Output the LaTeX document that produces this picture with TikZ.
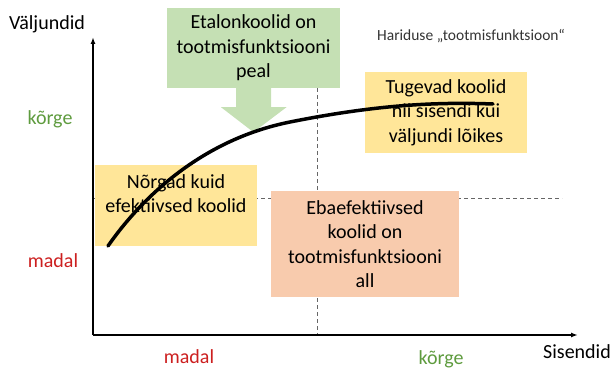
\documentclass[tikz,border=0pt]{standalone}
\usepackage{fontspec}
\setmainfont{Carlito}
\usepackage{tikz}
\usetikzlibrary{arrows.meta,calc,positioning}
\definecolor{boxgreen}{HTML}{C5E0B4}
\definecolor{boxyellow}{HTML}{FFE699}
\definecolor{boxorange}{HTML}{F8CBAD}
\definecolor{lblgreen}{HTML}{5E9B3E}
\definecolor{lblred}{HTML}{CC1F1F}
\tikzset{
  txt/.style={font=\fontsize{20}{24.4}\selectfont, inner sep=0pt},
  smalltxt/.style={font=\fontsize{15.5}{18}\selectfont, inner sep=0pt, text=black!80},
  lowlbl/.style={txt, text=lblred},
  highlbl/.style={txt, text=lblgreen},
  box/.style={txt, align=center},
  axis/.style={line width=1.4pt, -{Latex[length=7pt,width=5pt]}},
  guide/.style={gray!80!black, line width=0.7pt, dash pattern=on 4pt off 3pt},
  frontier/.style={line width=3.5pt, line cap=round}
}

\begin{document}
\begin{tikzpicture}[x=1pt, y=-1pt]
        \useasboundingbox (0,0) rectangle (614,369);

        % Axes
        \coordinate (origin) at (93,335);
        \coordinate (ytip) at (93,37);
        \coordinate (xtip) at (578,335);

        % Guides
        \coordinate (vtop) at (317.5,88);
        \coordinate (vbot) at (317.5,335);
        \coordinate (hleft) at (93,198);
        \coordinate (hright) at (562,198);
        \draw[guide] (vtop) -- (vbot);
        \draw[guide] (hleft) -- (hright);

        \draw[axis] (origin) -- (ytip);
        \draw[axis] (origin) -- (xtip);

        % Axis labels
        \node[txt] (yname) at (47,24) {Väljundid};
        \node[txt] (xname) at (577,352) {Sisendid};
        \node[highlbl] (yhigh) at (50,119) {kõrge};
        \node[lowlbl] (ylow) at (53,261) {madal};
        \node[lowlbl] (xlow) at (189,357) {madal};
        \node[highlbl] (xhigh) at (441,359) {kõrge};

        % Title
        \node[smalltxt] (title) at (471,36) {Hariduse „tootmisfunktsioon“};

        % Benchmark schools
        \node[box, fill=boxgreen, minimum width=173pt, minimum height=80pt] (etalon) at (253.5,48)
          {Etalonkoolid on\\tootmisfunktsiooni\\peal};
        \fill[boxgreen] ($(etalon.south)+(-17.5,0)$) -- ++(0,19) -- ++(-15,0)
          -- ($(etalon.south)+(0,44)$) -- ($(etalon.south)+(33,19)$) -- ++(-15.5,0)
          -- ($(etalon.south)+(17.5,0)$) -- cycle;

        % Strong schools
        \node[box, fill=boxyellow, minimum width=162pt, minimum height=81pt] (strong) at (446,112.5)
          {Tugevad koolid\\nii sisendi kui\\väljundi lõikes};

        % Weak but efficient schools
        \node[box, fill=boxyellow, minimum width=162pt, minimum height=81pt] (weak) at (176,205.5)
          {Nõrgad kuid\\efektiivsed koolid\\\mbox{}};

        % Inefficient schools
        \node[box, fill=boxorange, minimum width=188pt, minimum height=106pt] (ineff) at (365,244)
          {Ebaefektiivsed\\koolid on\\tootmisfunktsiooni\\all};

        % Production function
        \draw[frontier] (108,246) .. controls (140,200) and (200,140) .. (290,122)
          .. controls (380,104) and (440,102) .. (493,104);
    \end{tikzpicture}
\end{document}
